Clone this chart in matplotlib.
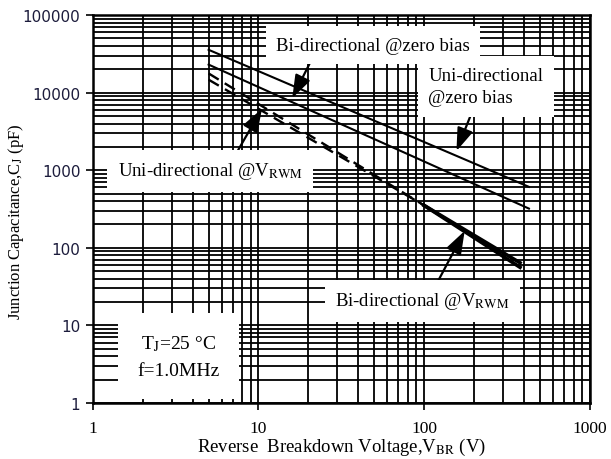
import matplotlib
matplotlib.use("Agg")
import matplotlib.pyplot as plt
from matplotlib.ticker import LogLocator, FixedLocator, NullFormatter

plt.rcParams['font.family'] = ['Liberation Serif', 'DejaVu Serif']
plt.rcParams['mathtext.fontset'] = 'stix'

# Data
bi_zero_v = [5, 430]
bi_zero_c = [23000, 320]          # middle solid line
uni_zero_v = [5, 430]
uni_zero_c = [35700, 610]         # upper solid line
uni_vrwm_v = [5, 100, 380]
uni_vrwm_c = [14700, 352, 64]
bi_vrwm_v = [5, 100, 380]
bi_vrwm_c = [17700, 352, 56]

x_ticks = [1, 10, 100, 1000]
x_tick_labels = ['1', '10', '100', '1000']
y_ticks = [1, 10, 100, 1000, 10000, 100000]
y_tick_labels = ['1', '10', '100', '1000', '10000', '100000']

fig = plt.figure(figsize=(6.11, 4.60), dpi=100)
ax = fig.add_axes([0.152, 0.122, 0.813, 0.843])
ax.set_xscale('log')
ax.set_yscale('log')
ax.set_xlim(1, 1000)
ax.set_ylim(1, 100000)

ax.xaxis.set_major_locator(FixedLocator(x_ticks))
ax.yaxis.set_major_locator(FixedLocator(y_ticks))
ax.xaxis.set_minor_locator(LogLocator(base=10, subs=range(2, 10)))
ax.yaxis.set_minor_locator(LogLocator(base=10, subs=range(2, 10)))
ax.xaxis.set_minor_formatter(NullFormatter())
ax.yaxis.set_minor_formatter(NullFormatter())
ax.set_xticklabels(x_tick_labels, fontsize=12.5, family='Liberation Serif')
ax.set_yticklabels(y_tick_labels, fontsize=11, family='DejaVu Sans', color='#1c1c3c')
ax.tick_params(which='major', direction='out', length=5, width=1.2, color='black')
ax.tick_params(which='minor', length=0)
ax.tick_params(axis='x', pad=7)
ax.tick_params(axis='y', pad=4)
ax.grid(True, which='both', color='black', lw=1.3)
for s in ax.spines.values():
    s.set_linewidth(1.8)
ax.set_axisbelow(True)

ax.plot(uni_zero_v, uni_zero_c, color='black', lw=1.5, zorder=3)
ax.plot(bi_zero_v, bi_zero_c, color='black', lw=1.5, zorder=3)
# @VRWM curves: dashed at low voltage, merging into a solid wedge at high voltage
ax.plot(uni_vrwm_v[:2], uni_vrwm_c[:2], color='black', lw=1.7, ls=(0, (5, 3)), zorder=3)
ax.plot(bi_vrwm_v[:2], bi_vrwm_c[:2], color='black', lw=1.7, ls=(0, (5, 3)), zorder=3)
ax.plot(uni_vrwm_v[1:], uni_vrwm_c[1:], color='black', lw=2.6, zorder=3)
ax.plot(bi_vrwm_v[1:], bi_vrwm_c[1:], color='black', lw=2.6, zorder=3)

box = dict(boxstyle='square,pad=0.55', fc='white', ec='none')
ap = dict(arrowstyle='-|>,head_length=1.0,head_width=0.35', color='black', lw=1.6,
          mutation_scale=14, shrinkA=0, shrinkB=0)
fs = 13.5

ax.annotate('Bi-directional @zero bias', xy=(16, 8500), xytext=(49, 41000),
            fontsize=fs, ha='center', va='center', bbox=box, zorder=5,
            arrowprops=dict(ap, relpos=(0.2, 0)))
ax.annotate('Uni-directional\n@zero bias', xy=(157, 1770), xytext=(106, 12000),
            fontsize=fs, ha='left', va='center', bbox=box, zorder=5,
            linespacing=1.45, arrowprops=dict(ap, relpos=(0.4, 0)))
ax.annotate('Uni-directional @V$_{\\mathrm{RWM}}$', xy=(10.5, 6200), xytext=(5.1, 980),
            fontsize=fs, ha='center', va='center', bbox=box, zorder=5,
            arrowprops=dict(ap, relpos=(0.62, 1)))
ax.annotate('Bi-directional @V$_{\\mathrm{RWM}}$', xy=(176, 165), xytext=(98, 20.6),
            fontsize=fs, ha='center', va='center', bbox=box, zorder=5,
            arrowprops=dict(ap, relpos=(0.56, 1)))

ax.text(3.3, 4.0, 'T$_{\\mathrm{J}}$=25 °C\nf=1.0MHz', fontsize=14, ha='center', va='center',
        linespacing=1.7, zorder=5,
        bbox=dict(boxstyle='square,pad=1.0', fc='white', ec='none'))

ax.set_xlabel('Reverse  Breakdown Voltage,V$_{\\mathrm{BR}}$ (V)', fontsize=13.5, labelpad=0)
ax.set_ylabel('Junction Capacitance,C$_{\\mathrm{J}}$ (pF)', fontsize=12)
ax.yaxis.set_label_coords(-0.134, 0.47)

fig.savefig('out.png', dpi=100)
